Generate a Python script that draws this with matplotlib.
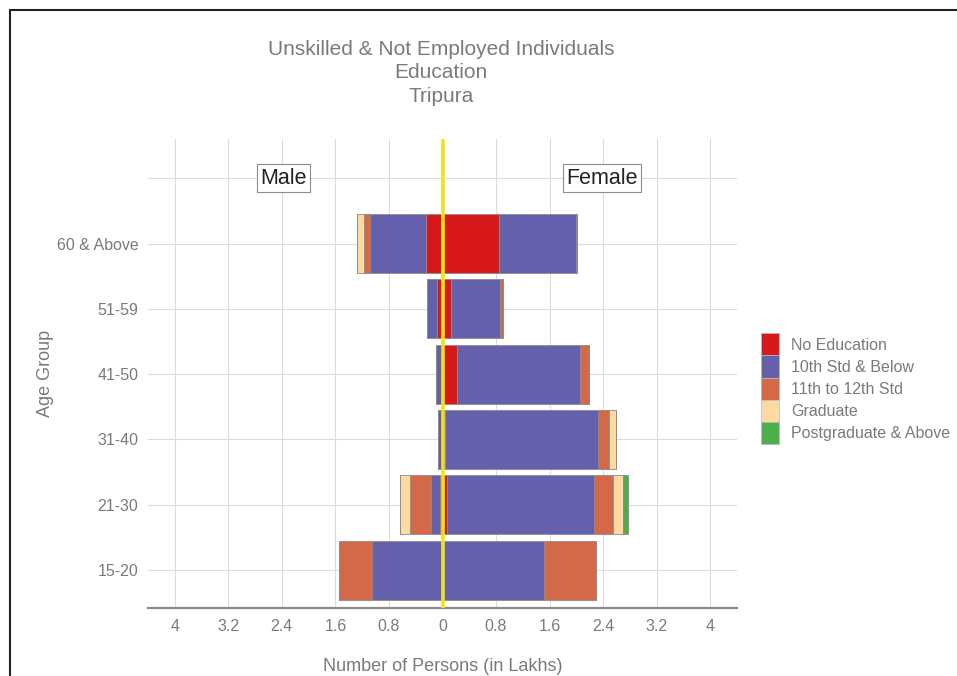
import matplotlib
matplotlib.use("Agg")
import matplotlib.pyplot as plt
import matplotlib.patches as mpatches
import numpy as np

plt.rcParams['font.family'] = ['Liberation Sans', 'DejaVu Sans']

ages = ["15-20", "21-30", "31-40", "41-50", "51-59", "60 & Above"]
categories = ["No Education", "10th Std & Below", "11th to 12th Std", "Graduate", "Postgraduate & Above"]
colors = ["#D7191C", "#6560AC", "#D4694A", "#FCDAA2", "#4DAF4A"]

male_no_edu = [0.00, 0.03, 0.01, 0.01, 0.075, 0.24]
male_10th = [1.06, 0.14, 0.06, 0.08, 0.16, 0.85]
male_11_12 = [0.49, 0.31, 0.00, 0.00, 0.00, 0.09]
male_grad = [0.00, 0.16, 0.00, 0.00, 0.00, 0.10]
male_pg = [0.00, 0.00, 0.00, 0.00, 0.00, 0.00]

female_no_edu = [0.00, 0.07, 0.03, 0.21, 0.13, 0.85]
female_10th = [1.51, 2.20, 2.30, 1.84, 0.73, 1.14]
female_11_12 = [0.78, 0.28, 0.16, 0.14, 0.045, 0.02]
female_grad = [0.00, 0.15, 0.10, 0.00, 0.00, 0.00]
female_pg = [0.00, 0.07, 0.00, 0.00, 0.00, 0.00]

xticks = [-4, -3.2, -2.4, -1.6, -0.8, 0, 0.8, 1.6, 2.4, 3.2, 4]
xtick_labels = ["4", "3.2", "2.4", "1.6", "0.8", "0", "0.8", "1.6", "2.4", "3.2", "4"]

male = [male_no_edu, male_10th, male_11_12, male_grad, male_pg]
female = [female_no_edu, female_10th, female_11_12, female_grad, female_pg]

fig = plt.figure(figsize=(9.57, 6.76), dpi=100)
ax = fig.add_axes([148/957, 1-608/676, (737-148)/957, (608-139)/676])

y = np.arange(1, len(ages) + 1)
grey_txt = "#7a7a7a"

ax.set_axisbelow(True)
for v in xticks:
    ax.axvline(v, color="#dcdcdc", lw=0.8, zorder=0)
for v in list(y) + [7]:
    ax.axhline(v, color="#dcdcdc", lw=0.8, zorder=0)

cum_m = np.zeros(len(ages))
cum_f = np.zeros(len(ages))
handles = []
for vals_m, vals_f, lab, col in zip(male, female, categories, colors):
    vm = np.array(vals_m)
    vf = np.array(vals_f)
    ax.barh(y, -vm, left=-cum_m, height=0.9, color=col, edgecolor="#8c8c8c", linewidth=0.6, zorder=2)
    ax.barh(y, vf, left=cum_f, height=0.9, color=col, edgecolor="#8c8c8c", linewidth=0.6, zorder=2)
    cum_m += vm
    cum_f += vf
    handles.append(mpatches.Patch(facecolor=col, edgecolor="#bbbbbb", linewidth=0.5, label=lab))

ax.axvline(0, color="#F2E21A", lw=2.6, zorder=3)

ax.set_xlim(-4.4, 4.4)
ax.set_ylim(0.42, 7.6)
ax.set_xticks(xticks)
ax.set_xticklabels(xtick_labels)
ax.set_yticks(y)
ax.set_yticklabels(ages)
ax.tick_params(axis='both', length=0, colors=grey_txt, labelsize=11.5)
ax.tick_params(axis='x', pad=8)
ax.tick_params(axis='y', pad=7)
for s in ["top", "right", "left"]:
    ax.spines[s].set_visible(False)
ax.spines["bottom"].set_color("#8a8a8a")
ax.spines["bottom"].set_linewidth(1.6)

ax.set_xlabel("Number of Persons (in Lakhs)", color=grey_txt, fontsize=13, labelpad=17)
ax.set_ylabel("Age Group", color=grey_txt, fontsize=13)
ax.yaxis.set_label_coords((54 - 148) / 589, 0.5)

box = dict(boxstyle="square,pad=0.15", facecolor="white", edgecolor="#8c8c8c", linewidth=0.8)
ax.text(-2.37, 7, "Male", ha="center", va="center", fontsize=15.5, color="#222222", bbox=box, zorder=5)
ax.text(2.38, 7, "Female", ha="center", va="center", fontsize=15.5, color="#222222", bbox=box, zorder=5)

fig.text(441/957, 1-73/676, "Unskilled & Not Employed Individuals\nEducation\nTripura",
         ha="center", va="center", fontsize=15, color=grey_txt, linespacing=1.3)

leg = fig.legend(handles=handles, loc="upper left", bbox_to_anchor=(755/957, 1-327/676),
                 frameon=False, fontsize=11.5, labelcolor=grey_txt, handlelength=1.1,
                 handleheight=1.75, labelspacing=0.0, handletextpad=0.75, borderaxespad=0)

border = mpatches.Rectangle((10/957, -0.1), 1.2, 1.1 - 10/676, transform=fig.transFigure,
                            fill=False, edgecolor="#222222", linewidth=1.5, clip_on=False)
fig.patches.append(border)

fig.savefig("out.png", dpi=100, facecolor="white")
